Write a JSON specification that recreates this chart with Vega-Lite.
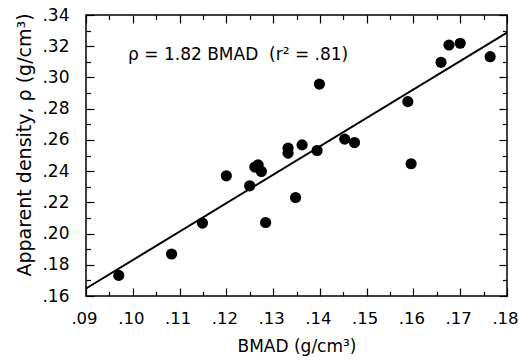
{
  "$schema": "https://vega.github.io/schema/vega-lite/v6.json",
  "width": 421,
  "height": 281,
  "autosize": {"type": "none"},
  "padding": {"left": 86, "top": 15, "right": 12, "bottom": 66},
  "background": "white",
  "config": {
    "font": "DejaVu Sans",
    "view": {"stroke": "black", "strokeWidth": 1.5},
    "axis": {
      "domain": false,
      "grid": false,
      "ticks": true,
      "tickColor": "black",
      "tickWidth": 1.2,
      "labelColor": "black",
      "labelFontSize": 17,
      "labelFont": "DejaVu Sans",
      "titleFont": "DejaVu Sans",
      "titleFontSize": 17,
      "titleFontWeight": "normal",
      "titleColor": "black"
    }
  },
  "datasets": {
    "pts": [
      {"bmad": 0.0970, "rho": 0.1732},
      {"bmad": 0.1083, "rho": 0.1869},
      {"bmad": 0.1149, "rho": 0.2067},
      {"bmad": 0.1200, "rho": 0.2370},
      {"bmad": 0.1250, "rho": 0.2306},
      {"bmad": 0.1261, "rho": 0.2426},
      {"bmad": 0.1268, "rho": 0.2440},
      {"bmad": 0.1275, "rho": 0.2398},
      {"bmad": 0.1284, "rho": 0.2071},
      {"bmad": 0.1332, "rho": 0.2547},
      {"bmad": 0.1332, "rho": 0.2515},
      {"bmad": 0.1362, "rho": 0.2568},
      {"bmad": 0.1348, "rho": 0.2231},
      {"bmad": 0.1394, "rho": 0.2532},
      {"bmad": 0.1399, "rho": 0.2957},
      {"bmad": 0.1453, "rho": 0.2605},
      {"bmad": 0.1474, "rho": 0.2583},
      {"bmad": 0.1588, "rho": 0.2845},
      {"bmad": 0.1595, "rho": 0.2447},
      {"bmad": 0.1659, "rho": 0.3097},
      {"bmad": 0.1676, "rho": 0.3208},
      {"bmad": 0.1700, "rho": 0.3219},
      {"bmad": 0.1764, "rho": 0.3133}
    ],
    "fit": [
      {"bmad": 0.09, "rho": 0.1648},
      {"bmad": 0.18, "rho": 0.3287}
    ],
    "note": [
      {"bmad": 0.099, "rho": 0.311, "label": "ρ = 1.82 BMAD\u00a0 (r² = .81)"}
    ]
  },
  "resolve": {"axis": {"x": "independent", "y": "independent"}},
  "layer": [
    {
      "data": {"name": "fit"},
      "mark": {"type": "line", "color": "black", "strokeWidth": 2},
      "encoding": {
        "x": {
          "field": "bmad", "type": "quantitative",
          "scale": {"domain": [0.09, 0.18], "nice": false, "zero": false},
          "axis": {
            "orient": "bottom",
            "offset": -8,
            "values": [0.09, 0.10, 0.11, 0.12, 0.13, 0.14, 0.15, 0.16, 0.17, 0.18],
            "labelExpr": "substring(format(datum.value, '.2f'), 1)",
            "tickSize": 8,
            "labelPadding": 14,
            "labelFontSize": 16.5,
            "labelOffset": -2,
            "labelFlush": false,
            "title": "BMAD (g/cm³)",
            "titlePadding": 12
          }
        },
        "y": {
          "field": "rho", "type": "quantitative",
          "scale": {"domain": [0.16, 0.34], "nice": false, "zero": false},
          "axis": {
            "orient": "left",
            "offset": -8,
            "values": [0.16, 0.18, 0.20, 0.22, 0.24, 0.26, 0.28, 0.30, 0.32, 0.34],
            "labelExpr": "substring(format(datum.value, '.2f'), 1)",
            "tickSize": 8,
            "labelPadding": 17,
            "labelFlush": false,
            "title": "Apparent density, ρ (g/cm³)",
            "titleFontSize": 19,
            "titlePadding": 7,
            "titleY": 129.5
          }
        }
      }
    },
    {
      "data": {"name": "pts"},
      "mark": {"type": "circle", "color": "black", "opacity": 1, "size": 125},
      "encoding": {
        "x": {
          "field": "bmad", "type": "quantitative",
          "scale": {"domain": [0.09, 0.18], "nice": false, "zero": false},
          "axis": {
            "orient": "top",
            "offset": -8,
            "values": [0.09, 0.10, 0.11, 0.12, 0.13, 0.14, 0.15, 0.16, 0.17, 0.18],
            "labels": false, "tickSize": 8, "title": null
          }
        },
        "y": {
          "field": "rho", "type": "quantitative",
          "scale": {"domain": [0.16, 0.34], "nice": false, "zero": false},
          "axis": {
            "orient": "right",
            "offset": -8,
            "values": [0.16, 0.18, 0.20, 0.22, 0.24, 0.26, 0.28, 0.30, 0.32, 0.34],
            "labels": false, "tickSize": 8, "title": null
          }
        }
      }
    },
    {
      "data": {"name": "fit"},
      "mark": {"type": "line", "strokeOpacity": 0},
      "encoding": {
        "x": {
          "field": "bmad", "type": "quantitative",
          "scale": {"domain": [0.09, 0.18], "nice": false, "zero": false},
          "axis": {
            "orient": "bottom",
            "offset": -4.5,
            "values": [0.095, 0.105, 0.115, 0.125, 0.135, 0.145, 0.155, 0.165, 0.175],
            "labels": false, "tickSize": 4.5, "title": null
          }
        },
        "y": {
          "field": "rho", "type": "quantitative",
          "scale": {"domain": [0.16, 0.34], "nice": false, "zero": false},
          "axis": {
            "orient": "left",
            "offset": -4.5,
            "values": [0.17, 0.19, 0.21, 0.23, 0.25, 0.27, 0.29, 0.31, 0.33],
            "labels": false, "tickSize": 4.5, "title": null
          }
        }
      }
    },
    {
      "data": {"name": "fit"},
      "mark": {"type": "line", "strokeOpacity": 0},
      "encoding": {
        "x": {
          "field": "bmad", "type": "quantitative",
          "scale": {"domain": [0.09, 0.18], "nice": false, "zero": false},
          "axis": {
            "orient": "top",
            "offset": -4.5,
            "values": [0.095, 0.105, 0.115, 0.125, 0.135, 0.145, 0.155, 0.165, 0.175],
            "labels": false, "tickSize": 4.5, "title": null
          }
        },
        "y": {
          "field": "rho", "type": "quantitative",
          "scale": {"domain": [0.16, 0.34], "nice": false, "zero": false},
          "axis": {
            "orient": "right",
            "offset": -4.5,
            "values": [0.17, 0.19, 0.21, 0.23, 0.25, 0.27, 0.29, 0.31, 0.33],
            "labels": false, "tickSize": 4.5, "title": null
          }
        }
      }
    },
    {
      "data": {"name": "note"},
      "mark": {"type": "text", "align": "left", "baseline": "alphabetic", "fontSize": 17, "font": "DejaVu Sans", "color": "black"},
      "encoding": {
        "x": {"field": "bmad", "type": "quantitative", "scale": {"domain": [0.09, 0.18], "nice": false, "zero": false}, "axis": null},
        "y": {"field": "rho", "type": "quantitative", "scale": {"domain": [0.16, 0.34], "nice": false, "zero": false}, "axis": null},
        "text": {"field": "label"}
      }
    }
  ]
}
